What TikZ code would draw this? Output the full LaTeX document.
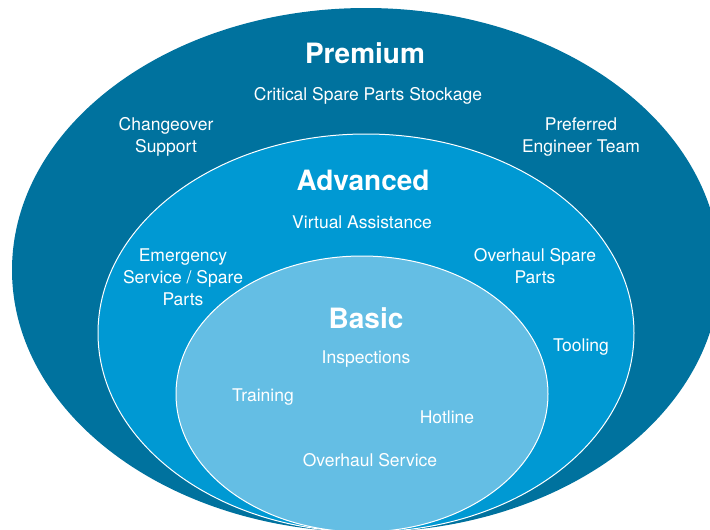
\documentclass[tikz,border=0pt]{standalone}
\usepackage{fontspec}
\setmainfont{TeX Gyre Heros}
\definecolor{premiumblue}{RGB}{0,114,158}
\definecolor{advancedblue}{RGB}{0,153,211}
\definecolor{basicblue}{RGB}{100,190,228}
\tikzset{
    itemtext/.style={text=white, align=center, font=\fontsize{17.5}{22}\selectfont},
    tiertext/.style={text=white, font=\fontsize{28}{32}\selectfont\bfseries},
}
\begin{document}
\begin{tikzpicture}[x=1pt,y=-1pt]
    \clip (0,0) rectangle (710,530);
    \fill[premiumblue] (366,270) ellipse (354pt and 262pt);
    \filldraw[fill=advancedblue, draw=white, line width=1pt] (366,333) ellipse (268pt and 199pt);
    \filldraw[fill=basicblue, draw=white, line width=1pt] (362,394) ellipse (186pt and 138pt);
    % premium
    \node[tiertext] (premium) at (365,53) {Premium};
    \node[itemtext] (stockage) at (368,96) {Critical Spare Parts Stockage};
    \node[itemtext] (changeover) at (166,137) {Changeover\\Support};
    \node[itemtext] (engineer) at (581,137) {Preferred\\Engineer Team};
    % advanced
    \node[tiertext] (advanced) at (363,180) {Advanced};
    \node[itemtext] (virtual) at (362,222) {Virtual Assistance};
    \node[itemtext] (emergency) at (183,277) {Emergency\\Service / Spare\\Parts};
    \node[itemtext] (spareparts) at (535,266) {Overhaul Spare\\Parts};
    \node[itemtext] (tooling) at (581,347) {Tooling};
    % basic
    \node[tiertext] (basic) at (366,318) {Basic};
    \node[itemtext] (inspections) at (366,359) {Inspections};
    \node[itemtext] (training) at (263,397) {Training};
    \node[itemtext] (hotline) at (447,417) {Hotline};
    \node[itemtext] (service) at (370,460) {Overhaul Service};
\end{tikzpicture}
\end{document}
